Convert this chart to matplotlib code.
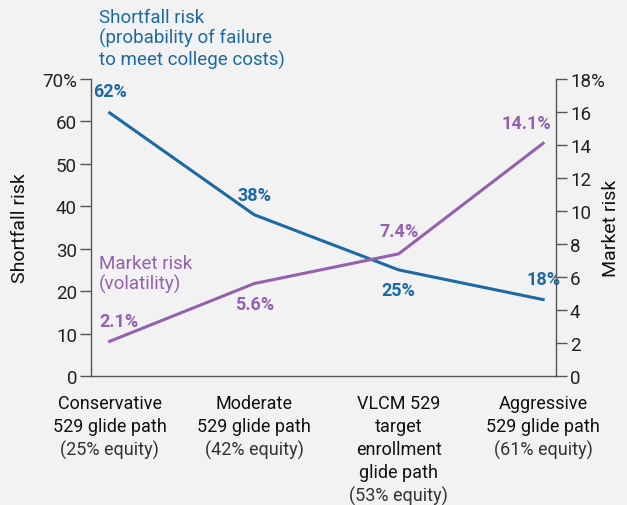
import matplotlib
matplotlib.use("Agg")
import matplotlib.pyplot as plt
import matplotlib.transforms as mtransforms

plt.rcParams['font.family'] = ['Roboto', 'DejaVu Sans']

categories = ["Conservative\n529 glide path", "Moderate\n529 glide path",
              "VLCM 529\ntarget\nenrollment\nglide path", "Aggressive\n529 glide path"]
equity = ["(25% equity)", "(42% equity)", "(53% equity)", "(61% equity)"]
shortfall = [62, 38, 25, 18]
market = [2.1, 5.6, 7.4, 14.1]
shortfall_labels = ["62%", "38%", "25%", "18%"]
market_labels = ["2.1%", "5.6%", "7.4%", "14.1%"]

blue = "#1c6aa3"
purple = "#9461b0"
bg = "#f2f2f2"
axc = "#555555"

fig = plt.figure(figsize=(6.27, 5.06), dpi=100, facecolor=bg)
ax = fig.add_axes([0.145, 0.255, 0.742, 0.587], facecolor=bg)
ax2 = ax.twinx()

x = list(range(len(categories)))
ax.plot(x, shortfall, color=blue, lw=2.2, zorder=3)
ax2.plot(x, market, color=purple, lw=2.2, zorder=3)

ax.set_xlim(-0.13, 3.09)
ax.set_ylim(0, 70)
ax2.set_ylim(0, 18)

ax.set_yticks(range(0, 71, 10))
ax.set_yticklabels(["0", "10", "20", "30", "40", "50", "60", "70%"])
ax2.set_yticks(range(0, 19, 2))
ax2.set_yticklabels([str(v) for v in range(0, 17, 2)] + ["18%"])
ax.set_xticks([])

for a in (ax, ax2):
    for s in a.spines.values():
        s.set_color(axc)
        s.set_linewidth(1.0)
    a.spines['top'].set_visible(False)
    a.tick_params(axis='y', length=8, width=1.0, color=axc, labelsize=13.5,
                  labelcolor="#222222", pad=2)
ax.spines['right'].set_visible(False)
ax2.spines['left'].set_visible(False)
ax2.spines['bottom'].set_visible(False)

ax.set_ylabel("Shortfall risk", fontsize=14, color="#111111")
ax.yaxis.set_label_coords(-0.133, 0.5)
ax2.set_ylabel("Market risk", fontsize=14, color="#111111")
ax2.yaxis.set_label_coords(1.098, 0.5)

# value labels
s_off = [(0, 9, 'bottom'), (0, 8, 'bottom'), (0, -8, 'top'), (0, 8, 'bottom')]
m_off = [(7, 8, 'bottom'), (0, -8, 'top'), (0, 10, 'bottom'), (-12, 8, 'bottom')]
for i in x:
    dx, dy, va = s_off[i]
    ax.annotate(shortfall_labels[i], (i, shortfall[i]), xytext=(dx, dy),
                textcoords='offset points', ha='center', va=va,
                color=blue, fontsize=13, fontweight='bold')
    dx, dy, va = m_off[i]
    ax2.annotate(market_labels[i], (i, market[i]), xytext=(dx, dy),
                 textcoords='offset points', ha='center', va=va,
                 color=purple, fontsize=13, fontweight='bold')

# series annotations
fig.text(99 / 627, 1 - 9 / 506, "Shortfall risk\n(probability of failure\nto meet college costs)",
         color=blue, fontsize=13.5, ha='left', va='top', linespacing=1.15)
fig.text(99 / 627, 1 - 255 / 506, "Market risk\n(volatility)",
         color=purple, fontsize=13.5, ha='left', va='top', linespacing=1.15)

# category labels
trans = mtransforms.blended_transform_factory(ax.transData, fig.transFigure)
line_h = 23 / 506
top_y = 1 - 395 / 506
for i in x:
    lines = categories[i].split("\n")
    for j, ln in enumerate(lines):
        ax.text(i, top_y - j * line_h, ln, transform=trans, ha='center', va='top',
                fontsize=13, color="#111111", clip_on=False)
    ax.text(i, top_y - len(lines) * line_h, equity[i], transform=trans, ha='center',
            va='top', fontsize=13, color="#333333", clip_on=False)

fig.savefig("out.png", dpi=100, facecolor=bg)
